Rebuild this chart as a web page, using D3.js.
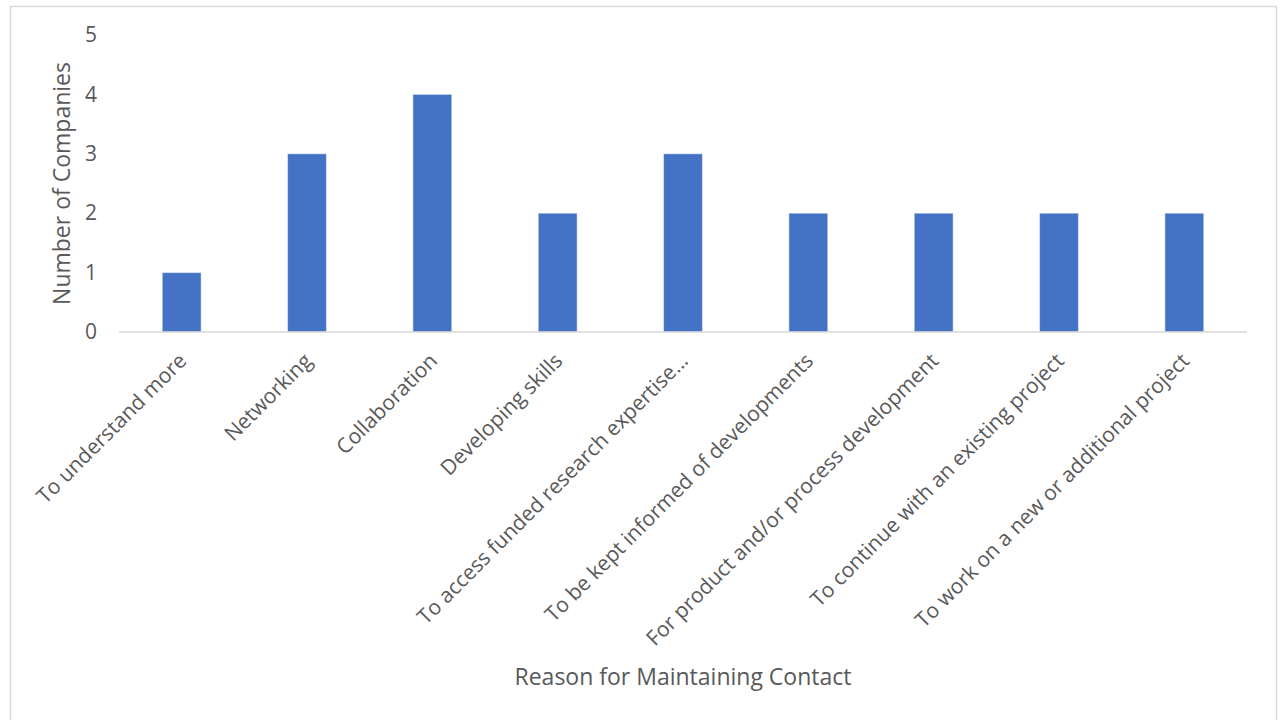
<!DOCTYPE html>
<html>
<head>
<meta charset="utf-8">
<script src="https://cdn.jsdelivr.net/npm/d3@7"></script>
<style>
  html, body { margin: 0; padding: 0; background: #ffffff; }
  svg { display: block; }
  text { font-family: "Open Sans", "Noto Sans", sans-serif; fill: #595959; }
</style>
</head>
<body>
<svg id="chart" width="1283" height="720"></svg>
<script>
// Reasons companies gave for keeping in touch, and how many gave each
const categories = [
  "To understand more",
  "Networking",
  "Collaboration",
  "Developing skills",
  "To access funded research expertise\u2026",
  "To be kept informed of developments",
  "For product and/or process development",
  "To continue with an existing project",
  "To work on a new or additional project"
];
const companies = [1, 3, 4, 2, 3, 2, 2, 2, 2];
const yTicks = [0, 1, 2, 3, 4, 5];
const yTitle = "Number of Companies";
const xTitle = "Reason for Maintaining Contact";

const svg = d3.select("#chart");
const plot = { left: 119, right: 1247, top: 35, bottom: 332 };

// Outer chart frame
svg.append("rect")
  .attr("x", 10.5).attr("y", 6.5)
  .attr("width", 1266).attr("height", 740)
  .attr("fill", "#ffffff")
  .attr("stroke", "#d9d9d9").attr("stroke-width", 1.5);

const x = d3.scaleBand()
  .domain(categories)
  .range([plot.left, plot.right])
  .paddingInner(0.69)
  .paddingOuter(0.345);

const y = d3.scaleLinear()
  .domain([0, 5])
  .range([plot.bottom, plot.top]);

// Bars
svg.append("g")
  .selectAll("rect")
  .data(categories)
  .join("rect")
  .attr("x", d => x(d))
  .attr("width", x.bandwidth())
  .attr("y", (d, i) => y(companies[i]))
  .attr("height", (d, i) => y(0) - y(companies[i]))
  .attr("fill", "#4472c4")
  .attr("stroke", "#ffffff")
  .attr("stroke-opacity", 0.45)
  .attr("stroke-width", 1);

// Y axis: labels only
const yAxis = svg.append("g")
  .attr("transform", `translate(${plot.left - 22},0)`)
  .call(d3.axisLeft(y).tickValues(yTicks).tickSize(0).tickPadding(0).tickFormat(d3.format("d")));
yAxis.select(".domain").remove();
yAxis.selectAll("text")
  .attr("font-size", 21)
  .attr("fill", "#595959")
  .style("font-family", "'Open Sans', sans-serif");

// X axis: baseline plus rotated category labels
const xAxis = svg.append("g")
  .attr("transform", `translate(0,${plot.bottom})`)
  .call(d3.axisBottom(x).tickSize(0).tickPadding(0));
xAxis.select(".domain")
  .attr("stroke", "#d9d9d9")
  .attr("stroke-width", 1.5)
  .attr("d", `M${plot.left},0H${plot.right}`);
xAxis.selectAll(".tick text")
  .attr("font-size", 21)
  .attr("fill", "#595959")
  .style("font-family", "'Open Sans', sans-serif")
  .attr("text-anchor", "end")
  .attr("y", 0)
  .attr("dy", "0.35em")
  .attr("transform", "translate(1,25) rotate(-45)");

// Axis titles
svg.append("text")
  .attr("transform", `translate(62,${(plot.top + plot.bottom) / 2}) rotate(-90)`)
  .attr("text-anchor", "middle")
  .attr("dy", "0.35em")
  .attr("font-size", 23)
  .text(yTitle);

svg.append("text")
  .attr("x", 683)
  .attr("y", 677)
  .attr("text-anchor", "middle")
  .attr("dy", "0.35em")
  .attr("font-size", 23)
  .text(xTitle);
</script>
</body>
</html>
